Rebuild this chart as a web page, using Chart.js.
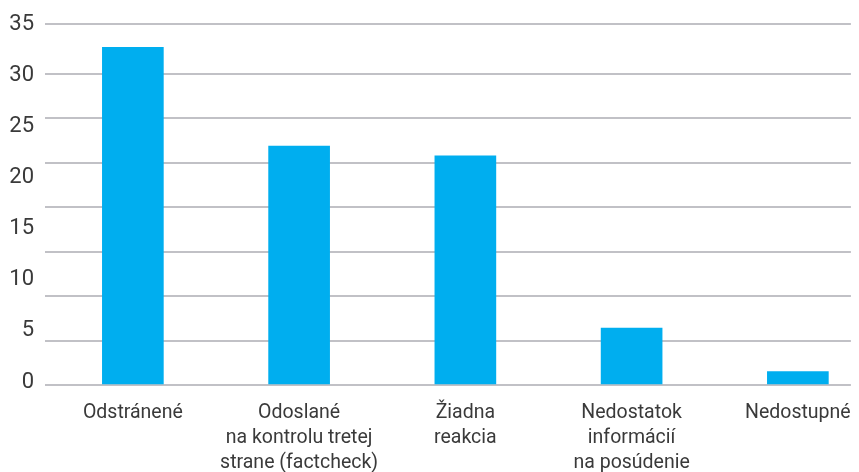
<!DOCTYPE html>
<html>
<head>
<meta charset="utf-8">
<script src="https://cdn.jsdelivr.net/npm/chart.js@4"></script>
<style>
  body { margin: 0; background: #fff; }
</style>
</head>
<body>
<canvas id="bar-chart" width="859" height="472"></canvas>
<script>
var categories = [
  ["Odstránené"],
  ["Odoslané", "na kontrolu tretej", "strane (factcheck)"],
  ["Žiadna", "reakcia"],
  ["Nedostatok", "informácií", "na posúdenie"],
  ["Nedostupné"],
];
var values = [38, 26.9, 25.8, 6.4, 1.5];
var tickLabels = [0, 5, 10, 15, 20, 25, 30, 35];
var gridLines = [0, 5, 10, 15, 20, 25, 30, 35, 40.61];

var textColor = "#3a3a3a";

var config = {
  type: "bar",
  data: {
    datasets: [
      {
        data: values.map(function (v, i) { return { x: i, y: v }; }),
        backgroundColor: "#00aeef",
        barThickness: 61,
        xAxisID: "x",
        yAxisID: "y",
      },
    ],
  },
  options: {
    responsive: false,
    animation: false,
    layout: { padding: { top: 23, right: 5, bottom: 0, left: 0 } },
    plugins: {
      legend: { display: false },
      tooltip: { enabled: false },
    },
    scales: {
      x: {
        type: "linear",
        offset: false,
        min: -0.5285,
        max: 4.319,
        grid: { display: false, offset: false },
        border: { display: false },
        afterBuildTicks: function (scale) {
          scale.ticks = categories.map(function (c, i) { return { value: i }; });
        },
        afterFit: function (scale) { scale.height = 87; },
        ticks: {
          autoSkip: false,
          maxRotation: 0,
          minRotation: 0,
          padding: 8,
          color: textColor,
          font: { family: "Roboto", size: 19.5, lineHeight: "25px" },
          callback: function (value) { return categories[value]; },
        },
      },
      y: {
        type: "linear",
        position: "left",
        min: 0,
        max: 40.61,
        afterBuildTicks: function (scale) {
          scale.ticks = gridLines.map(function (v) { return { value: v }; });
        },
        grid: { color: "#c1c1c6", lineWidth: 2, drawTicks: false },
        border: { display: false },
        ticks: { display: false },
      },
      yl: {
        type: "linear",
        position: "left",
        min: -0.29,
        max: 35.05,
        afterBuildTicks: function (scale) {
          scale.ticks = tickLabels.map(function (v) { return { value: v }; });
        },
        afterFit: function (scale) { scale.width = 45; },
        grid: { display: false, drawTicks: false },
        border: { display: false },
        ticks: {
          padding: 11,
          color: textColor,
          font: { family: "Roboto", size: 22 },
        },
      },
    },
  },
};

var ctxOne = document.getElementById("bar-chart").getContext("2d");
new Chart(ctxOne, config);
</script>
</body>
</html>
